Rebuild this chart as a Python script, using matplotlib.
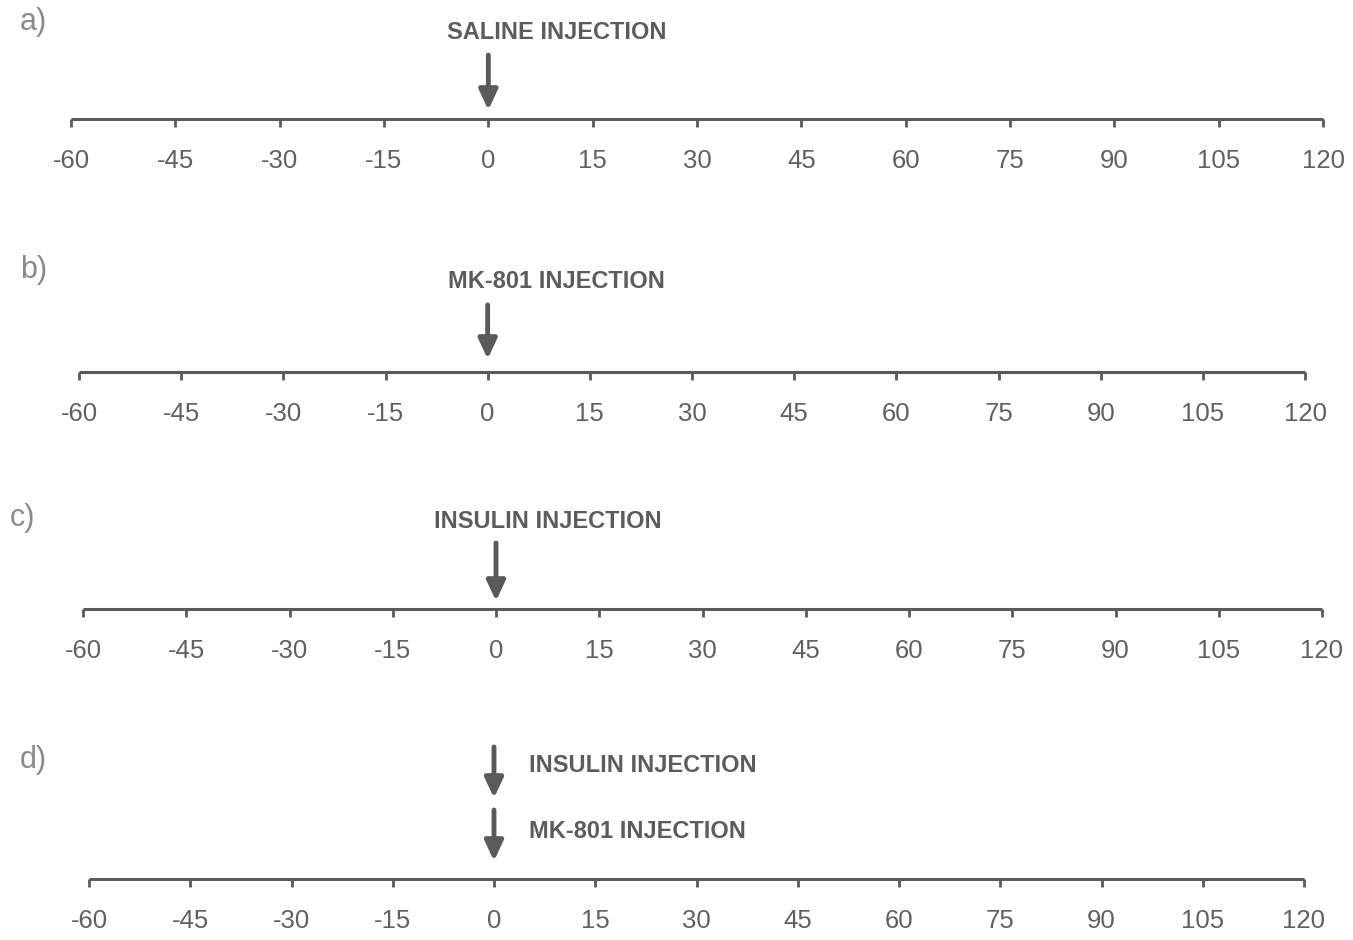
import matplotlib
matplotlib.use("Agg")
import matplotlib.pyplot as plt

# ── data ──────────────────────────────────────────────────────────────────────
TICKS = [-60, -45, -30, -15, 0, 15, 30, 45, 60, 75, 90, 105, 120]
PANEL_LABELS = ["a)", "b)", "c)", "d)"]
# injections per panel: (label, time of injection)
INJECTIONS = [
    [("SALINE INJECTION", 0)],
    [("MK-801 INJECTION", 0)],
    [("INSULIN INJECTION", 0)],
    [("INSULIN INJECTION", 0), ("MK-801 INJECTION", 0)],
]

# ── layout (pixels in a 1353x940 canvas) ──────────────────────────────────────
W, H = 1353, 940
# left px, right px, axis line y px, top px
PANEL_BOX = [
    (71, 1323, 119, 20),
    (79, 1305, 372, 268),
    (83, 1322, 609, 508),
    (89, 1304, 879, 742),
]
LABEL_POS = [(20, 22), (20, 270), (10, 518), (20, 760)]

LINE_COL = "#5a5a5a"
TEXT_COL = "#5c5c5c"
TICK_COL = "#606060"
LABEL_COL = "#8a8a8a"

ARROW = dict(arrowstyle="-|>,head_length=0.6,head_width=0.28",
             lw=3.5, color=LINE_COL, mutation_scale=20, shrinkA=0, shrinkB=0)

plt.rcParams["font.family"] = ["Liberation Sans", "DejaVu Sans"]

fig = plt.figure(figsize=(W / 100, H / 100), dpi=100)
fig.patch.set_facecolor("white")

for i, (box, injections) in enumerate(zip(PANEL_BOX, INJECTIONS)):
    left, right, line_y, top = box
    ax = fig.add_axes([left / W, 1 - line_y / H, (right - left) / W, (line_y - top) / H])
    ax.set_xlim(TICKS[0], TICKS[-1])
    ax.set_ylim(0, line_y - top)   # y = pixels above the axis line
    for s in ("top", "left", "right"):
        ax.spines[s].set_visible(False)
    ax.spines["bottom"].set_color(LINE_COL)
    ax.spines["bottom"].set_linewidth(2.2)
    ax.spines["bottom"].set_capstyle("butt")
    ax.set_yticks([])
    ax.set_xticks(TICKS)
    ax.set_xticklabels([str(t) for t in TICKS])
    ax.tick_params(axis="x", direction="out", length=6, width=2, color=LINE_COL,
                   labelsize=18.5, labelcolor=TICK_COL, pad=15.5)
    ax.patch.set_alpha(0)
    px = (right - left) / (TICKS[-1] - TICKS[0])  # pixels per minute

    if len(injections) == 1:
        name, t = injections[0]
        tip, tail, ty = {0: (9, 64, 86), 1: (13, 67, 91), 2: (8, 66, 88)}[i]
        dx = {0: 68, 1: 69, 2: 52}[i] / px
        ax.annotate("", xy=(t, tip), xytext=(t, tail), arrowprops=ARROW)
        ax.text(t + dx, ty, name, ha="center", va="center", fontsize=17,
                fontweight="bold", color=TEXT_COL, clip_on=False)
    else:
        arrows = [(81, 132, 113), (18, 69, 47)]
        for (name, t), (tip, tail, ty) in zip(injections, arrows):
            ax.annotate("", xy=(t, tip), xytext=(t, tail), arrowprops=ARROW)
            ax.text(t + 35 / px, ty, name, ha="left", va="center", fontsize=17,
                    fontweight="bold", color=TEXT_COL, clip_on=False)

for lab, (x, y) in zip(PANEL_LABELS, LABEL_POS):
    fig.text(x / W, 1 - y / H, lab, ha="left", va="center", fontsize=22,
             color=LABEL_COL)

fig.savefig("out.png", dpi=100)
